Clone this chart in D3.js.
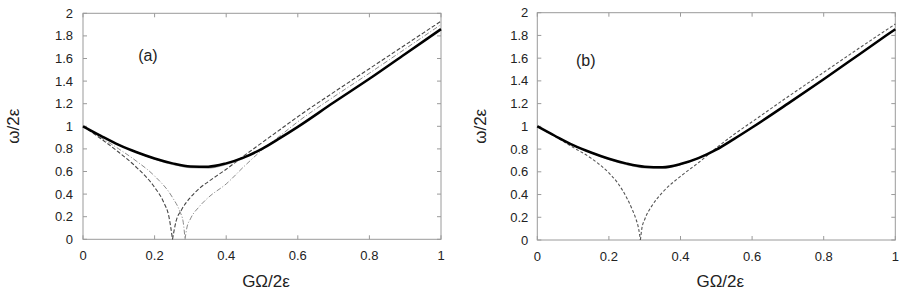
<!DOCTYPE html>
<html>
<head>
<meta charset="utf-8">
<script src="https://cdn.jsdelivr.net/npm/d3@7"></script>
<style>
  body { margin: 0; background: #fff; }
  svg { display: block; font-family: "Liberation Sans", Arial, Helvetica, sans-serif; }
</style>
</head>
<body>
<div id="chart"></div>
<script>
// ticks
const xTicks = [0, 0.2, 0.4, 0.6, 0.8, 1];
const xTickLabels = ["0", "0.2", "0.4", "0.6", "0.8", "1"];
const yTicks = [0, 0.2, 0.4, 0.6, 0.8, 1, 1.2, 1.4, 1.6, 1.8, 2];
const yTickLabels = ["0", "0.2", "0.4", "0.6", "0.8", "1", "1.2", "1.4", "1.6", "1.8", "2"];

// upper branch (thick solid), both panels
const upperX = [0, 0.05, 0.1, 0.15, 0.2, 0.25, 0.3, 0.35, 0.4, 0.45, 0.5, 0.55, 0.6, 0.7, 0.8, 0.9, 1];
const upperA = [1, 0.915, 0.835, 0.77, 0.715, 0.672, 0.645, 0.643, 0.672, 0.725, 0.8, 0.895, 0.995, 1.21, 1.42, 1.64, 1.86];
const upperB = [1, 0.915, 0.835, 0.77, 0.715, 0.672, 0.645, 0.64, 0.668, 0.72, 0.795, 0.89, 0.99, 1.2, 1.415, 1.635, 1.855];

// faint grey companion under the minimum
const shadowX = [0.15, 0.2, 0.25, 0.3, 0.35, 0.4, 0.45];
const shadowA = [0.77, 0.71, 0.664, 0.635, 0.632, 0.664, 0.72];

// panel (a): dark dashed branch, cusp near 0.25
const darkLeftX = [0, 0.05, 0.1, 0.15, 0.2, 0.225, 0.24, 0.25];
const darkLeftA = [1, 0.89, 0.77, 0.635, 0.46, 0.33, 0.2, 0];
const darkRightX = [0.25, 0.26, 0.275, 0.3, 0.325, 0.35, 0.4, 0.45, 0.5, 0.55, 0.6, 0.7, 0.8, 0.9, 1];
const darkRightA = [0, 0.16, 0.26, 0.37, 0.45, 0.51, 0.62, 0.74, 0.855, 0.97, 1.085, 1.3, 1.51, 1.72, 1.93];

// panel (a): light dash-dot branch, cusp near 0.285
const lightLeftX = [0, 0.05, 0.1, 0.15, 0.2, 0.25, 0.27, 0.28, 0.285];
const lightLeftA = [1, 0.9, 0.8, 0.69, 0.56, 0.37, 0.25, 0.15, 0];
const lightRightX = [0.285, 0.29, 0.3, 0.325, 0.35, 0.4, 0.45, 0.5, 0.55, 0.6, 0.7, 0.8, 0.9, 1];
const lightRightA = [0, 0.1, 0.18, 0.29, 0.37, 0.49, 0.645, 0.79, 0.915, 1.04, 1.26, 1.47, 1.685, 1.9];

// panel (b): dashed branch, cusp near 0.288
const lowLeftX = [0, 0.05, 0.1, 0.15, 0.2, 0.225, 0.25, 0.265, 0.275, 0.283, 0.288];
const lowLeftB = [1, 0.91, 0.815, 0.72, 0.59, 0.5, 0.37, 0.27, 0.19, 0.1, 0];
const lowRightX = [0.288, 0.292, 0.3, 0.32, 0.35, 0.4, 0.45, 0.5, 0.55, 0.6, 0.7, 0.8, 0.9, 1];
const lowRightB = [0, 0.1, 0.18, 0.3, 0.42, 0.56, 0.68, 0.81, 0.93, 1.04, 1.26, 1.475, 1.69, 1.9];

const width = 900, height = 298;
const svg = d3.select('#chart').append('svg')
    .attr('width', width)
    .attr('height', height);

const zip = (xs, ys) => xs.map((x, i) => ({ x: x, y: ys[i] }));

function drawPanel(p) {
    const x = d3.scaleLinear().domain([0, 1]).range([p.left, p.right]);
    const y = d3.scaleLinear().domain([0, 2]).range([p.bottom, p.top]);
    const g = svg.append('g');

    // frame
    g.append('rect')
        .attr('x', p.left).attr('y', p.top)
        .attr('width', p.right - p.left).attr('height', p.bottom - p.top)
        .attr('fill', 'none').attr('stroke', '#9a9a9a').attr('stroke-width', 1);

    // inward ticks on all four sides
    const tk = 4;
    g.selectAll('.xt').data(xTicks).enter().append('path')
        .attr('d', d => `M${x(d)},${p.bottom}v${-tk}M${x(d)},${p.top}v${tk}`)
        .attr('stroke', '#9a9a9a');
    g.selectAll('.yt').data(yTicks).enter().append('path')
        .attr('d', d => `M${p.left},${y(d)}h${tk}M${p.right},${y(d)}h${-tk}`)
        .attr('stroke', '#9a9a9a');

    g.selectAll('.xl').data(xTicks).enter().append('text')
        .attr('x', d => x(d)).attr('y', p.bottom + 21)
        .attr('text-anchor', 'middle').attr('font-size', 13).attr('fill', '#222')
        .text((d, i) => xTickLabels[i]);
    g.selectAll('.yl').data(yTicks).enter().append('text')
        .attr('x', p.left - p.labelGap).attr('y', d => y(d) + 4.5)
        .attr('text-anchor', 'end').attr('font-size', 13).attr('fill', '#222')
        .text((d, i) => yTickLabels[i]);

    // axis titles
    g.append('text')
        .attr('x', (p.left + p.right) / 2 + 4).attr('y', 287)
        .attr('text-anchor', 'middle').attr('font-size', 17).attr('fill', '#222')
        .text('GΩ/2ε');
    g.append('text')
        .attr('transform', `translate(${p.ylabX},${(p.top + p.bottom) / 2}) rotate(-90)`)
        .attr('text-anchor', 'middle').attr('font-size', 17).attr('fill', '#222')
        .text('ω/2ε');

    g.append('text')
        .attr('x', x(p.tag[1])).attr('y', y(p.tag[2]))
        .attr('font-size', 16).attr('fill', '#222')
        .text(p.tag[0]);

    const line = d3.line()
        .x(d => x(d.x))
        .y(d => y(d.y))
        .curve(d3.curveMonotoneX);

    p.series.forEach(s => {
        g.append('path')
            .datum(s.data)
            .attr('fill', 'none')
            .attr('stroke', s.color)
            .attr('stroke-width', s.w)
            .attr('stroke-dasharray', s.dash || null)
            .attr('d', line);
    });
}

drawPanel({
    left: 83, right: 441, top: 13.3, bottom: 239.3, labelGap: 10, ylabX: 19,
    tag: ['(a)', 0.154, 1.58],
    series: [
        { data: zip(lightLeftX, lightLeftA), color: '#8a8a8a', w: 1, dash: '5,2,1,2' },
        { data: zip(lightRightX, lightRightA), color: '#8a8a8a', w: 1, dash: '5,2,1,2' },
        { data: zip(darkLeftX, darkLeftA), color: '#444', w: 1.1, dash: '4,2' },
        { data: zip(darkRightX, darkRightA), color: '#444', w: 1.1, dash: '4,2' },
        { data: zip(shadowX, shadowA), color: '#aaa', w: 1.5 },
        { data: zip(upperX, upperA), color: '#000', w: 2.5 }
    ]
});

drawPanel({
    left: 537.3, right: 895.3, top: 12.7, bottom: 240, labelGap: 9, ylabX: 486,
    tag: ['(b)', 0.108, 1.53],
    series: [
        { data: zip(lowLeftX, lowLeftB), color: '#555', w: 1.1, dash: '3,2' },
        { data: zip(lowRightX, lowRightB), color: '#555', w: 1.1, dash: '3,2' },
        { data: zip(shadowX, shadowA), color: '#aaa', w: 1.5 },
        { data: zip(upperX, upperB), color: '#000', w: 2.5 }
    ]
});
</script>
</body>
</html>
